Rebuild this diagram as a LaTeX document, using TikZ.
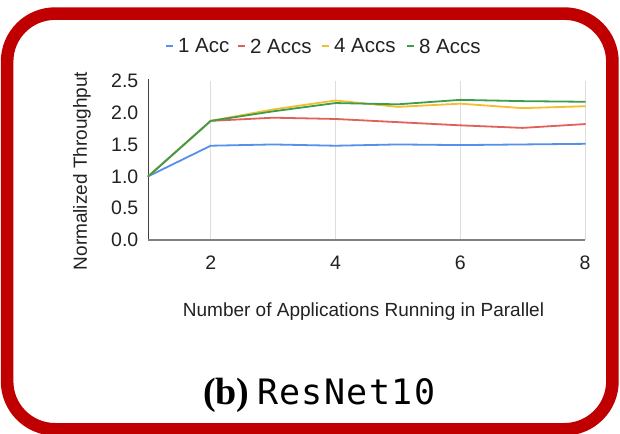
\documentclass[tikz,border=0pt]{standalone}
\usepackage{fontspec}
\setmainfont{Liberation Sans}
\newfontfamily\capserif{Liberation Serif}
\newfontfamily\capmono[LetterSpace=4]{DejaVu Sans Mono}

\definecolor{framered}{HTML}{C00000}
\definecolor{serA}{HTML}{5590EA}
\definecolor{serB}{HTML}{E0605A}
\definecolor{serC}{HTML}{F6BE2E}
\definecolor{serD}{HTML}{3A9E50}
\definecolor{inkgray}{HTML}{222222}

\tikzset{
  frame/.style={draw=framered, line width=12.6pt, rounded corners=48pt},
  gridline/.style={draw=black!13, line width=1pt},
  yaxisline/.style={draw=black!75, line width=1.3pt},
  xaxisline/.style={draw=black!50, line width=2pt},
  series/.style={line width=1.8pt, line join=round, line cap=round},
  legenddash/.style={line width=2.6pt},
  ticklabel/.style={font=\fontsize{19.5}{22}\selectfont, text=inkgray},
  axistitle/.style={font=\fontsize{19}{22}\selectfont, text=inkgray},
  legendtext/.style={font=\fontsize{20.5}{24}\selectfont, text=inkgray, anchor=west},
}

\begin{document}
\begin{tikzpicture}[x=1pt, y=-1pt, every node/.style={inner sep=0pt, outer sep=0pt}]
\useasboundingbox (0,0) rectangle (620,433);
\fill[white] (0,0) rectangle (620,433);

% rounded red frame
\draw[frame] (7.1,13.6) rectangle (612.4,429.3);

% legend
\foreach \col/\txt/\xx/\nm in {serA/1 Acc/178/lgA, serB/2 Accs/250/lgB, serC/4 Accs/334/lgC, serD/8 Accs/419/lgD}{
  \draw[legenddash, \col] (\xx-12,46) -- (\xx-5,46);
  \node[legendtext, name=\nm] at (\xx,46) {\txt};
}

% chart area: data coordinates (applications, throughput)
\begin{scope}[shift={(85.9pt,-240pt)}, x=62.4pt, y=63.7pt]
  \foreach \n in {2,4,6,8}
    \draw[gridline] (\n,0) -- (\n,2.5);
  \draw[yaxisline] (1,0) -- (1,2.52);
  \draw[xaxisline] (1,0) -- (8,0);

  \foreach \v/\t [count=\i] in {0/0.0, 0.5/0.5, 1/1.0, 1.5/1.5, 2/2.0, 2.5/2.5}
    \node[ticklabel, anchor=east, xshift=-10pt, name=ylab\i] at (1,\v) {\t};
  \foreach \n in {2,4,6,8}
    \node[ticklabel, yshift=-23pt, name=xlab\n] at (\n,0) {\n};

  \draw[series, serA] plot coordinates {(1,1.0) (2,1.48) (3,1.50) (4,1.48) (5,1.50) (6,1.49) (7,1.50) (8,1.51)};
  \draw[series, serB] plot coordinates {(1,1.0) (2,1.87) (3,1.92) (4,1.90) (5,1.85) (6,1.80) (7,1.76) (8,1.82)};
  \draw[series, serC] plot coordinates {(1,1.0) (2,1.87) (3,2.05) (4,2.19) (5,2.09) (6,2.14) (7,2.07) (8,2.10)};
  \draw[series, serD] plot coordinates {(1,1.0) (2,1.87) (3,2.02) (4,2.15) (5,2.13) (6,2.20) (7,2.18) (8,2.17)};
\end{scope}

% axis titles
\node[axistitle, rotate=90, name=ytitle] at (82,171) {Normalized Throughput};
\node[axistitle, name=xtitle] at (363.5,311.5) {Number of Applications Running in Parallel};

% caption
\node[anchor=base west, name=capb, font=\capserif\bfseries\fontsize{38}{42}\selectfont] at (203,404) {(b)};
\node[anchor=base west, name=capname, font=\capmono\fontsize{35}{40}\selectfont] at (257,404) {ResNet10};
\end{tikzpicture}
\end{document}
